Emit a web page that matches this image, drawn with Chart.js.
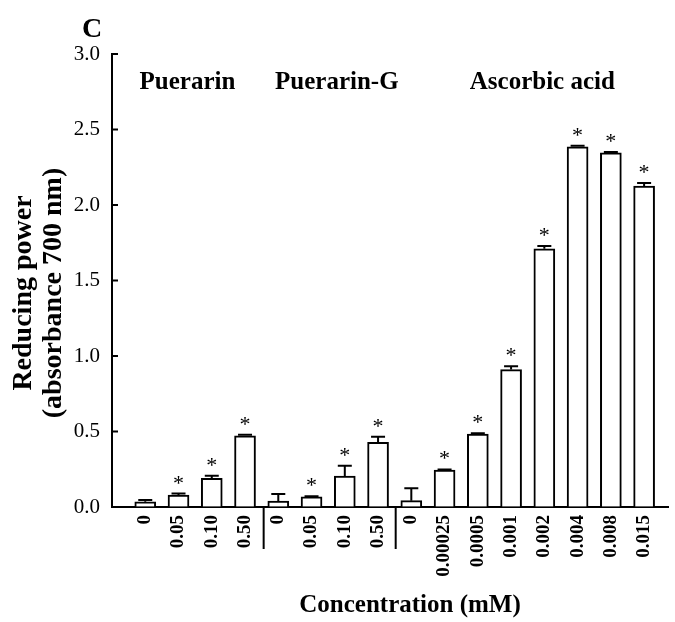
<!DOCTYPE html>
<html>
<head>
<meta charset="utf-8">
<script src="https://cdn.jsdelivr.net/npm/chart.js@4.4.1/dist/chart.umd.min.js"></script>
<style>
  body { margin: 0; background: #fff; }
  canvas { display: block; }
</style>
</head>
<body>
<canvas id="chart" width="675" height="622"></canvas>
<script>
// concentration (mM) under each bar
const concLabels = ['0', '0.05', '0.10', '0.50', '0', '0.05', '0.10', '0.50',
    '0', '0.00025', '0.0005', '0.001', '0.002', '0.004', '0.008', '0.015'];
// reducing power (absorbance 700 nm), mean and error
const meanValues = [0.035, 0.079, 0.19, 0.472, 0.04, 0.068, 0.205, 0.428,
    0.042, 0.245, 0.483, 0.91, 1.71, 2.386, 2.346, 2.126];
const errValues = [0.012, 0.01, 0.017, 0.007, 0.046, 0.004, 0.068, 0.037,
    0.082, 0.004, 0.005, 0.022, 0.018, 0.007, 0.005, 0.02];
const significant = [false, true, true, true, false, true, true, true,
    false, true, true, true, true, true, true, true];
const groupNames = ['Puerarin', 'Puerarin-G', 'Ascorbic acid'];
const yTicks = [0, 0.5, 1.0, 1.5, 2.0, 2.5, 3.0];

const serif = '"Liberation Serif", "Times New Roman", serif';

// extra drawing: error bars, asterisks, group names, titles
const annotate = {
    id: 'annotate',
    afterDraw(chart) {
        const ctx = chart.ctx;
        const x = chart.scales.x;
        const y = chart.scales.y;
        const area = chart.chartArea;
        ctx.save();
        ctx.strokeStyle = '#000';
        ctx.fillStyle = '#000';
        ctx.lineWidth = 2;

        // inward ticks on the y axis
        y.ticks.forEach(t => {
            const py = y.getPixelForValue(t.value);
            ctx.beginPath();
            ctx.moveTo(area.left, py);
            ctx.lineTo(area.left + 6, py);
            ctx.stroke();
        });

        // error bars + asterisks
        ctx.font = '22px ' + serif;
        ctx.textAlign = 'center';
        ctx.textBaseline = 'alphabetic';
        meanValues.forEach((v, i) => {
            const px = x.getPixelForValue(i);
            const base = y.getPixelForValue(v);
            const top = y.getPixelForValue(v + errValues[i]);
            ctx.beginPath();
            ctx.moveTo(px, base);
            ctx.lineTo(px, top);
            ctx.moveTo(px - 7, top);
            ctx.lineTo(px + 7, top);
            ctx.stroke();
            if (significant[i]) {
                ctx.fillText('*', px, top - 4);
            }
        });

        // separators between groups, below the axis
        [3.56, 7.53].forEach(v => {
            const px = x.getPixelForValue(v);
            ctx.beginPath();
            ctx.moveTo(px, area.bottom);
            ctx.lineTo(px, area.bottom + 42);
            ctx.stroke();
        });

        // group names
        ctx.font = 'bold 25px ' + serif;
        const groupX = [1.27, 5.76, 11.94];
        groupNames.forEach((name, i) => {
            ctx.fillText(name, x.getPixelForValue(groupX[i]), y.getPixelForValue(2.77));
        });

        // panel letter
        ctx.font = 'bold 28px ' + serif;
        ctx.textAlign = 'left';
        ctx.fillText('C', 82, 37);

        // x title
        ctx.font = 'bold 25px ' + serif;
        ctx.textAlign = 'center';
        ctx.fillText('Concentration (mM)', 410, 612);

        // y title, two lines
        ctx.font = 'bold 28px ' + serif;
        ctx.textBaseline = 'middle';
        ctx.translate(0, 293);
        ctx.rotate(-Math.PI / 2);
        ctx.fillText('Reducing power', 0, 24);
        ctx.fillText('(absorbance 700 nm)', 0, 54);
        ctx.restore();
    }
};

const ctx = document.getElementById('chart').getContext('2d');
const chart = new Chart(ctx, {
    type: 'bar',
    data: {
        datasets: [{
            data: meanValues.map((v, i) => ({x: i, y: v})),
            backgroundColor: '#fff',
            borderColor: '#000',
            borderWidth: 2,
            barThickness: 21
        }]
    },
    options: {
        responsive: false,
        animation: false,
        devicePixelRatio: 1,
        layout: {padding: {top: 54, right: 2, bottom: 0, left: 0}},
        plugins: {legend: {display: false}, tooltip: {enabled: false}},
        scales: {
            x: {
                type: 'linear',
                offset: false,
                min: -1,
                max: 15.73,
                afterBuildTicks: s => { s.ticks = concLabels.map((_, i) => ({value: i})); },
                afterFit: s => { s.height = 115; },
                grid: {display: true, drawOnChartArea: false, drawTicks: false},
                border: {display: true, color: '#000', width: 2},
                ticks: {
                    autoSkip: false,
                    minRotation: 90,
                    maxRotation: 90,
                    padding: 8,
                    color: '#000',
                    font: {family: serif, size: 19, weight: 'bold'},
                    callback: v => concLabels[v]
                }
            },
            y: {
                min: 0,
                max: 3,
                afterBuildTicks: s => { s.ticks = yTicks.map(v => ({value: v})); },
                afterFit: s => { s.width = 112; },
                grid: {display: true, drawOnChartArea: false, drawTicks: false},
                border: {display: true, color: '#000', width: 2},
                ticks: {
                    padding: 12,
                    color: '#000',
                    font: {family: serif, size: 21},
                    callback: v => v.toFixed(1)
                }
            }
        }
    },
    plugins: [annotate]
});
</script>
</body>
</html>
